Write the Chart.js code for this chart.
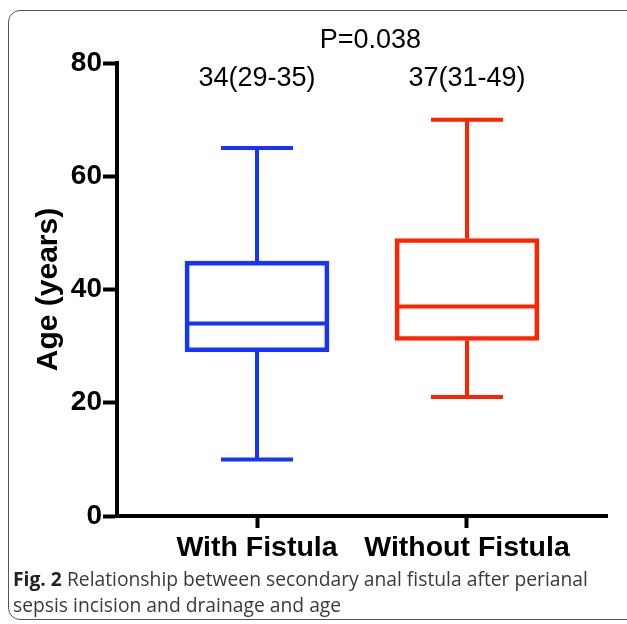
<!DOCTYPE html>
<html>
<head>
<meta charset="utf-8">
<script src="https://cdn.jsdelivr.net/npm/chart.js@4"></script>
<style>
    html, body { margin: 0; padding: 0; background: #fff; }
    body { width: 627px; height: 624px; position: relative; overflow: hidden; }
    .frame {
        position: absolute; left: 8px; top: 10px; width: 640px; height: 610px;
        border: 1.5px solid #555; border-radius: 12px; box-sizing: border-box;
    }
    .chart-box { position: absolute; left: 0; top: 0; width: 627px; height: 568px; }
    .caption {
        position: absolute; left: 13px; top: 566px; width: 620px; white-space: nowrap;
        font-family: "Open Sans", "Noto Sans", sans-serif; font-size: 19.3px;
        line-height: 26px; color: #3a3a3a;
    }
    .caption b { color: #222; }
</style>
</head>
<body>
<div class="frame"></div>
<div class="chart-box"><canvas id="chart-age" width="627" height="568"></canvas></div>
<div class="caption"><b>Fig. 2</b> Relationship between secondary anal fistula after perianal<br>sepsis incision and drainage and age</div>

<script>
// box plot values (age in years)
const groups = ["With Fistula", "Without Fistula"];
const whiskerMin = [10, 21];
const q1 = [29, 31];
const median = [34, 37];
const q3 = [45, 49];
const whiskerMax = [65, 70];
const groupColors = ["#1634ff", "#ff2400"];
const groupNotes = ["34(29-35)", "37(31-49)"];
const pValueText = "P=0.038";
const yTicks = [0, 20, 40, 60, 80];

const FONT = "'Liberation Sans', Arial, Helvetica, sans-serif";

// whiskers, caps, medians and the text above the boxes
const boxExtras = {
    id: "boxExtras",
    afterDatasetsDraw(chart) {
        const { ctx, scales: { x, y } } = chart;
        const halfBox = 70;
        const halfCap = 36;
        ctx.save();
        ctx.lineWidth = 4;
        ctx.lineCap = "butt";
        groups.forEach((g, i) => {
            const cx = x.getPixelForValue(i);
            ctx.strokeStyle = groupColors[i];
            ctx.beginPath();
            // median
            ctx.moveTo(cx - halfBox, y.getPixelForValue(median[i]));
            ctx.lineTo(cx + halfBox, y.getPixelForValue(median[i]));
            // upper whisker + cap
            ctx.moveTo(cx, y.getPixelForValue(q3[i]));
            ctx.lineTo(cx, y.getPixelForValue(whiskerMax[i]));
            ctx.moveTo(cx - halfCap, y.getPixelForValue(whiskerMax[i]));
            ctx.lineTo(cx + halfCap, y.getPixelForValue(whiskerMax[i]));
            // lower whisker + cap
            ctx.moveTo(cx, y.getPixelForValue(q1[i]));
            ctx.lineTo(cx, y.getPixelForValue(whiskerMin[i]));
            ctx.moveTo(cx - halfCap, y.getPixelForValue(whiskerMin[i]));
            ctx.lineTo(cx + halfCap, y.getPixelForValue(whiskerMin[i]));
            ctx.stroke();
        });

        ctx.fillStyle = "#000";
        ctx.textAlign = "center";
        ctx.textBaseline = "middle";
        ctx.font = "27px " + FONT;
        groups.forEach((g, i) => {
            ctx.fillText(groupNotes[i], x.getPixelForValue(i), y.getPixelForValue(77.3));
        });
        ctx.fillText(pValueText, x.getPixelForValue(0.54), y.getPixelForValue(84));
        ctx.restore();
    },
};

new Chart(document.getElementById("chart-age"), {
    type: "bar",
    data: {
        datasets: [
            {
                label: "IQR",
                data: groups.map((g, i) => ({ x: i, y: [q1[i], q3[i]] })),
                backgroundColor: "rgba(0,0,0,0)",
                borderColor: groupColors,
                borderWidth: 4,
                borderSkipped: false,
                barThickness: 144,
            },
        ],
    },
    options: {
        responsive: false,
        animation: false,
        layout: { padding: { left: 27, top: 63, right: 20, bottom: 2 } },
        plugins: {
            legend: { display: false },
            tooltip: { enabled: false },
        },
        scales: {
            x: {
                type: "linear",
                offset: false,
                min: -2 / 3,
                max: 5 / 3,
                afterBuildTicks: (scale) => { scale.ticks = groups.map((g, i) => ({ value: i })); },
                afterFit: (scale) => { scale.height = 50; },
                ticks: {
                    color: "#000",
                    padding: 3,
                    autoSkip: false,
                    maxRotation: 0,
                    font: { family: FONT, size: 28.5, weight: "bold" },
                    callback: (v) => groups[v],
                },
                grid: { offset: false, drawOnChartArea: false, drawTicks: true, tickLength: 12, tickWidth: 4, tickColor: "#000" },
                border: { display: true, width: 4, color: "#000" },
            },
            y: {
                min: 0,
                max: 80,
                afterBuildTicks: (scale) => { scale.ticks = yTicks.map((v) => ({ value: v })); },
                afterFit: (scale) => { scale.width = 90; },
                ticks: {
                    color: "#000",
                    padding: 1,
                    font: { family: FONT, size: 28, weight: "bold" },
                },
                title: {
                    display: true,
                    text: "Age (years)",
                    color: "#000",
                    font: { family: FONT, size: 30, weight: "bold" },
                },
                grid: { drawOnChartArea: false, drawTicks: true, tickLength: 14, tickWidth: 4, tickColor: "#000" },
                border: { display: true, width: 4, color: "#000" },
            },
        },
    },
    plugins: [boxExtras],
});
</script>
</body>
</html>
